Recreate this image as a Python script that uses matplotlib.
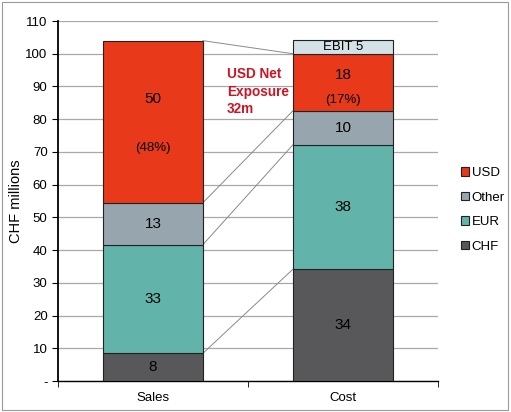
import matplotlib.pyplot as plt
from matplotlib.patches import Rectangle

plt.rcParams['font.family'] = ['Liberation Sans', 'DejaVu Sans']

# stacked segments, base to top
categories = ["Sales", "Cost"]
segments = ["CHF", "EUR", "Other", "USD"]
sales = [8.5, 33.2, 12.8, 49.5]
cost = [34.2, 38.0, 10.4, 17.4]
ebit = 4.3
sales_labels = ["8", "33", "13", "50"]
cost_labels = ["34", "38", "10", "18"]
ebit_label = "EBIT 5"
usd_share = ["(48%)", "(17%)"]
exposure_text = "USD Net\nExposure\n32m"

colors = {"CHF": "#58585a", "EUR": "#62b4aa", "Other": "#97a6ae", "USD": "#e8391a"}
ebit_color = "#d3e2e6"

fig = plt.figure(figsize=(5.11, 4.12), dpi=100)
ax = fig.add_axes([0.1135, 0.075, 0.7435, 0.874])
fig.patches.append(Rectangle((0.004, 0.006), 0.99, 0.988, transform=fig.transFigure,
                             fill=False, edgecolor="#9a9a9a", linewidth=0.8))

width = 0.526
bars = {}
for i, vals in enumerate([sales, cost]):
    bottom = 0
    tops = []
    for seg, v in zip(segments, vals):
        ax.bar(i, v, width, bottom=bottom, color=colors[seg], edgecolor="#222222",
               linewidth=0.8, zorder=3, label=seg if i == 0 else None)
        bottom += v
        tops.append(bottom)
    bars[i] = tops

# EBIT on top of cost
ax.bar(1, ebit, width, bottom=bars[1][-1], color=ebit_color, edgecolor="#222222",
       linewidth=0.8, zorder=3)
ax.text(1, bars[1][-1] + ebit / 2, ebit_label, ha="center", va="center", fontsize=9.5, zorder=4)

# segment labels, USD gets value + share
usd_pos = [(0.64, 0.34), (0.63, 0.18)]
for i, (vals, labs) in enumerate([(sales, sales_labels), (cost, cost_labels)]):
    bottom = 0
    for seg, v, lab in zip(segments, vals, labs):
        if seg == "USD":
            ax.text(i, bottom + v * usd_pos[i][0], lab, ha="center", va="center", fontsize=11, zorder=4)
            ax.text(i, bottom + v * usd_pos[i][1], usd_share[i], ha="center", va="center", fontsize=9.5, zorder=4)
        else:
            ax.text(i, bottom + v / 2, lab, ha="center", va="center", fontsize=11, zorder=4)
        bottom += v

# connector lines between cumulative tops
for ts, tc in zip(bars[0], bars[1]):
    ax.plot([width / 2, 1 - width / 2], [ts, tc], color="#8a8a8a", linewidth=0.7, zorder=2)

ax.text(0.39, 95.8, exposure_text, color="#cc1525", fontsize=9.8, fontweight="bold",
        ha="left", va="top", linespacing=1.3, zorder=4)

ax.set_xlim(-0.5, 1.5)
ax.set_ylim(0, 110)
ax.set_yticks(range(0, 111, 10))
ax.set_yticklabels(["-"] + [str(v) for v in range(10, 111, 10)], fontsize=9.5)
ax.yaxis.grid(True, color="#a8a8a8", linewidth=0.9, zorder=0)
ax.set_xticks([0, 1])
ax.set_xticklabels(categories, fontsize=9.5)
ax.set_xticks([-0.5, 0.5, 1.5], minor=True)
ax.tick_params(axis="x", which="major", length=0, pad=8)
ax.tick_params(axis="x", which="minor", length=4, direction="out")
ax.tick_params(axis="y", length=4, direction="out", width=0.8)
for s in ["top", "right"]:
    ax.spines[s].set_visible(False)
ax.spines["left"].set_linewidth(1.3)
ax.spines["bottom"].set_linewidth(1.0)
ax.set_ylabel("CHF millions", fontsize=10.5, labelpad=2)

handles, labels = ax.get_legend_handles_labels()
leg = ax.legend(handles[::-1], labels[::-1], loc="center left", bbox_to_anchor=(1.03, 0.475),
                frameon=False, fontsize=9.5, handlelength=0.6, handleheight=0.6,
                handletextpad=0.2, labelspacing=0.95)

fig.savefig("out.png", dpi=100)
